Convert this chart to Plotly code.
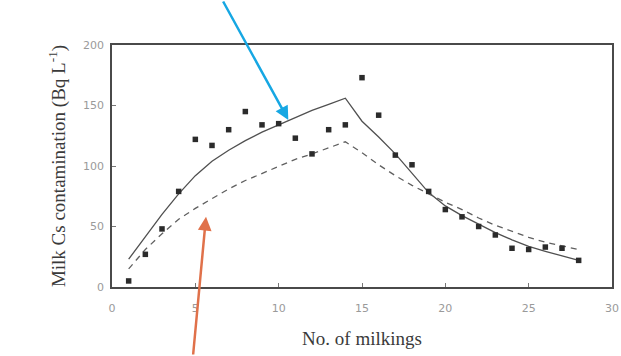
import plotly.graph_objects as go

milkings = list(range(1, 29))
observed = [5, 27, 48, 79, 122, 117, 130, 145, 134, 135, 123, 110, 130, 134,
            173, 142, 109, 101, 79, 64, 58, 50, 43, 32, 31, 33, 32, 22]
model_solid = [23, 42, 60, 77, 92, 104, 113, 121, 128, 134, 140, 146, 151, 156,
               137, 124, 110, 94, 78, 67, 59, 52, 45, 39, 33.5, 29.5, 25.5, 22]
model_dashed = [15, 31, 44, 56, 65, 73, 81, 88, 94, 100, 105.5, 110, 115, 120,
                111, 101, 92, 84, 77, 70, 64, 57, 51, 46, 41, 37, 34, 31]

x_ticks = [0, 5, 10, 15, 20, 25, 30]
y_ticks = [0, 50, 100, 150, 200]

fig = go.Figure()
fig.add_trace(go.Scatter(x=milkings, y=model_solid, mode="lines",
                         line=dict(color="#505050", width=1.3), showlegend=False))
fig.add_trace(go.Scatter(x=milkings, y=model_dashed, mode="lines",
                         line=dict(color="#606060", width=1.3, dash="6px,5px"),
                         showlegend=False))
fig.add_trace(go.Scatter(x=milkings, y=observed, mode="markers",
                         marker=dict(symbol="square", size=5.5, color="#2b2b2b"),
                         showlegend=False))

axis_common = dict(showline=True, mirror=True, linecolor="#4a4a4a", linewidth=1.5,
                   ticks="inside", ticklen=4, tickcolor="#777777", showgrid=False,
                   zeroline=False, automargin=False,
                   tickfont=dict(family="DejaVu Sans", size=11, color="#9a9a9a"))

fig.update_xaxes(range=[0, 30], tickvals=x_ticks, ticklabelstandoff=10,
                 title=dict(text="No. of milkings", standoff=18,
                            font=dict(family="Liberation Serif", size=19, color="#3a3a3a")),
                 **axis_common)
fig.update_yaxes(range=[0, 200], tickvals=y_ticks, ticklabelstandoff=4,
                 title=dict(text="Milk Cs contamination (Bq L<sup>-1</sup>)", standoff=12,
                            font=dict(family="Liberation Serif", size=19, color="#3a3a3a")),
                 **axis_common)

fig.add_annotation(x=10.58, y=138, ax=-66, ay=-120, text="", showarrow=True,
                   arrowhead=2, arrowsize=1.1, arrowwidth=2.5, arrowcolor="#16a7e3",
                   standoff=0)
fig.add_annotation(x=5.64, y=58, ax=-13, ay=142, text="", showarrow=True,
                   arrowhead=2, arrowsize=1.1, arrowwidth=2.5, arrowcolor="#e0714a",
                   standoff=0)

fig.update_layout(width=621, height=356, margin=dict(l=112, r=9, t=45, b=69),
                  paper_bgcolor="white", plot_bgcolor="white")

fig.write_html("out.html", config={"displayModeBar": False},
               post_script="document.body.style.margin='0';document.body.style.overflow='hidden';")
